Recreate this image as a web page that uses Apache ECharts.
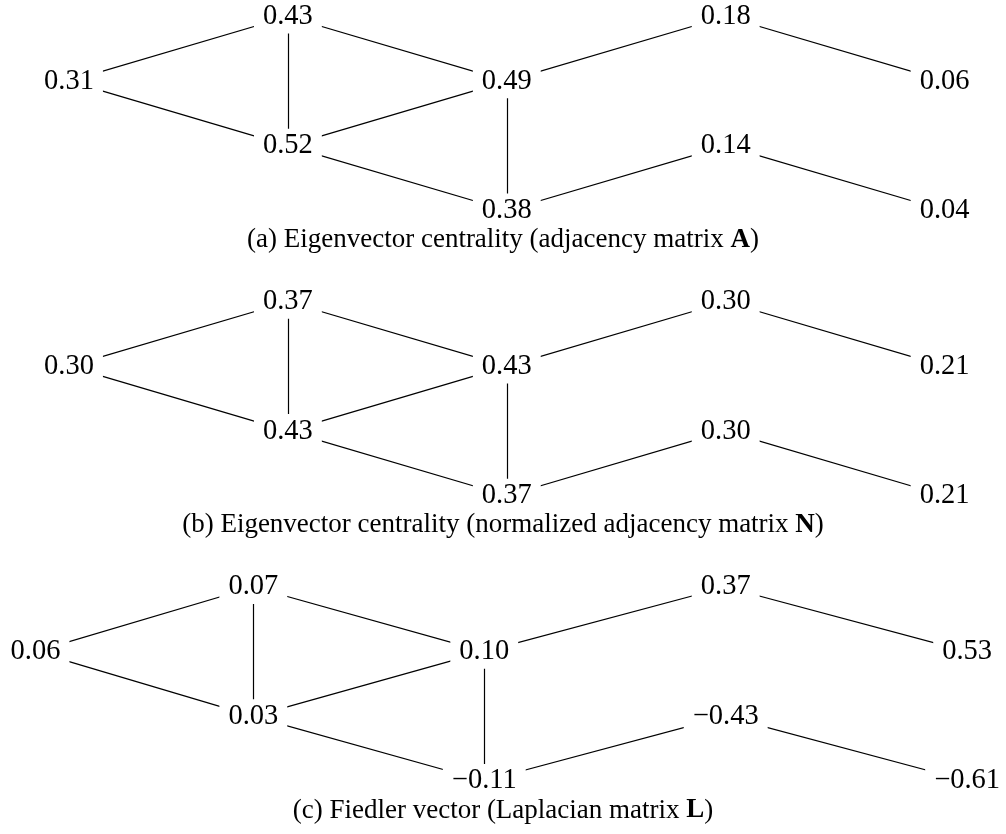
<!DOCTYPE html>
<html>
<head>
<meta charset="utf-8">
<script src="https://cdn.jsdelivr.net/npm/echarts@6/dist/echarts.min.js"></script>
<style>
html,body{margin:0;padding:0;background:#fff;}
#chart{width:1006px;height:834px;}
</style>
</head>
<body>
<div id="chart"></div>
<script>
// Node order: left, top-1, bottom-1, middle-2, bottom-2, top-3, bottom-3, right-top, right-bottom
const nodeCol = [0, 1, 1, 2, 2, 3, 3, 4, 4];
const nodeRow = [1, 0, 2, 1, 3, 0, 2, 1, 3];
const edges = [[0,1],[0,2],[1,2],[1,3],[2,3],[2,4],[3,4],[3,5],[5,7],[4,6],[6,8]];

const valuesA = [0.31, 0.43, 0.52, 0.49, 0.38, 0.18, 0.14, 0.06, 0.04];
const valuesN = [0.30, 0.37, 0.43, 0.43, 0.37, 0.30, 0.30, 0.21, 0.21];
const valuesL = [0.06, 0.07, 0.03, 0.10, -0.11, 0.37, -0.43, 0.53, -0.61];

// column layout (in column units) for each panel
const colsA = [0, 1, 2, 3, 4];
const colsN = [0, 1, 2, 3, 4];
const colsL = [-0.153, 0.842, 1.897, 3.0, 4.103];

const captionsPrefix = ['(a) Eigenvector centrality (adjacency matrix ', '(b) Eigenvector centrality (normalized adjacency matrix ', '(c) Fiedler vector (Laplacian matrix '];
const captionsBold = ['A', 'N', 'L'];

const panels = [
  {values: valuesA, cols: colsA},
  {values: valuesN, cols: colsN},
  {values: valuesL, cols: colsL}
];

const fmt = v => (v < 0 ? '\u2212' : '') + Math.abs(v).toFixed(2);

const PANEL_STEP = 285.25;
const grids = [], xAxes = [], yAxes = [], series = [], titles = [];
panels.forEach((p, k) => {
  grids.push({left: 69, width: 875.6, top: 16.5 + PANEL_STEP * k, height: 194});
  xAxes.push({type: 'value', gridIndex: k, min: 0, max: 4, show: false});
  yAxes.push({type: 'value', gridIndex: k, min: 0, max: 3, inverse: true, show: false});
  const labels = p.values.map(fmt);
  series.push({
    type: 'graph',
    coordinateSystem: 'cartesian2d',
    xAxisIndex: k,
    yAxisIndex: k,
    layout: 'none',
    silent: true,
    animation: false,
    symbol: 'circle',
    symbolSize: 1,
    itemStyle: {color: 'rgba(0,0,0,0)'},
    label: {
      show: true,
      position: 'inside',
      formatter: params => labels[params.dataIndex],
      fontFamily: 'Liberation Serif',
      fontSize: 28.5,
      lineHeight: 28,
      color: '#000',
      backgroundColor: '#fff',
      padding: [3, 9]
    },
    lineStyle: {color: '#000', width: 1.2, opacity: 1, curveness: 0},
    data: p.values.map((v, i) => ({name: 'n' + k + '_' + i, value: [p.cols[nodeCol[i]], nodeRow[i]]})),
    links: edges.map(e => ({source: e[0], target: e[1]}))
  });
  titles.push({
    text: captionsPrefix[k] + '{b|' + captionsBold[k] + '}{n|)}',
    left: 'center',
    top: 226.5 + PANEL_STEP * k,
    padding: 0,
    textStyle: {
      fontFamily: 'Liberation Serif',
      fontSize: 27,
      lineHeight: 27,
      fontWeight: 'normal',
      color: '#000',
      rich: {
        b: {fontFamily: 'Liberation Serif', fontSize: 27, fontWeight: 'bold', color: '#000'},
        n: {fontFamily: 'Liberation Serif', fontSize: 27, fontWeight: 'normal', color: '#000'}
      }
    }
  });
});

const chart = echarts.init(document.getElementById('chart'), null, {renderer: 'canvas'});
chart.setOption({
  animation: false,
  backgroundColor: '#fff',
  title: titles,
  grid: grids,
  xAxis: xAxes,
  yAxis: yAxes,
  series: series
});
</script>
</body>
</html>
